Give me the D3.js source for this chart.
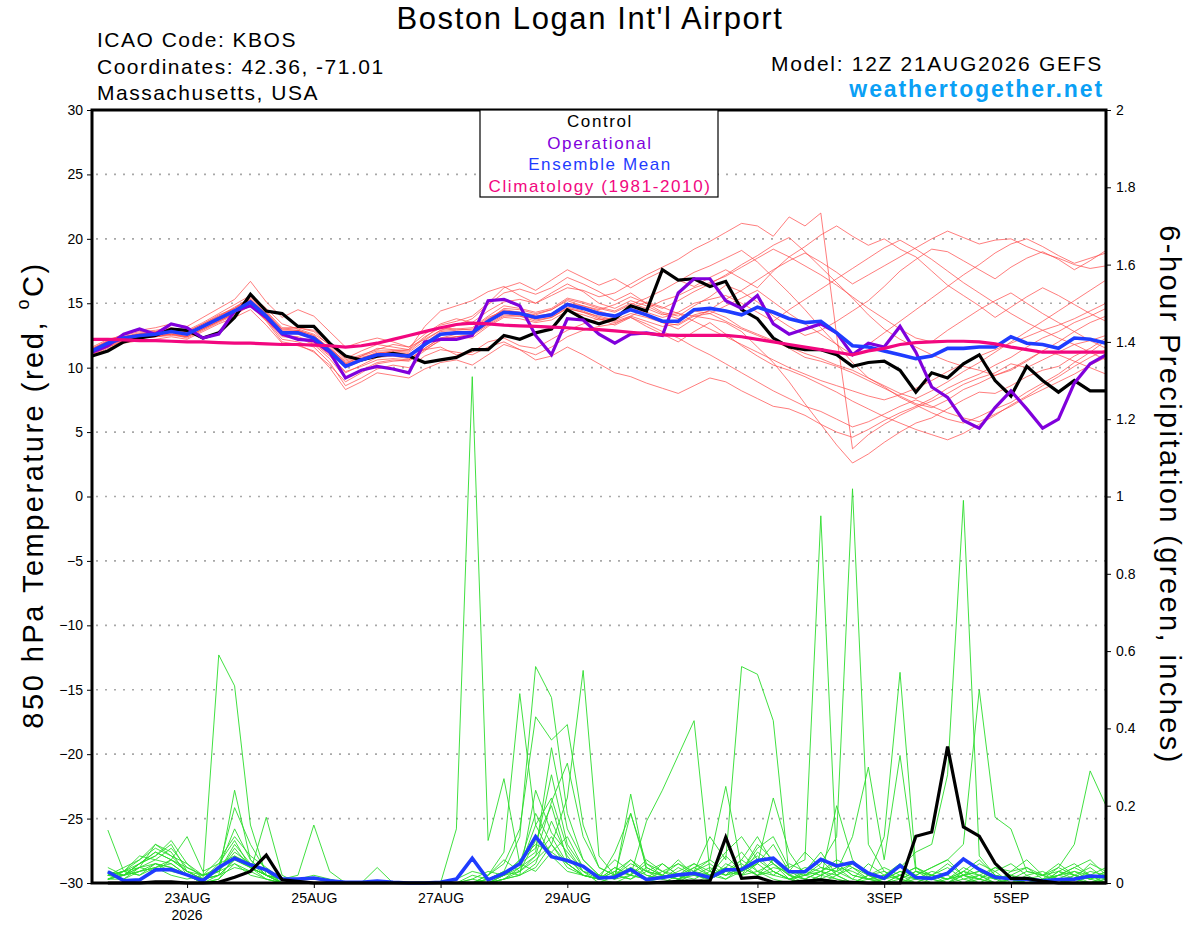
<!DOCTYPE html>
<html>
<head>
<meta charset="utf-8">
<script src="https://cdnjs.cloudflare.com/ajax/libs/d3/7.8.5/d3.min.js"></script>
<style>
  body { margin: 0; background: #fff; }
  svg text { font-family: "Liberation Sans", Arial, Helvetica, sans-serif; }
</style>
</head>
<body>
<div class="svg-container"></div>
<script>

let w = 1200;
let h = 927;
let plotLeft = 92;
let plotRight = 1106;
let plotTop = 110;
let plotBottom = 883;

// ---------- data (6-hourly, 12Z 21AUG2026 + 0..384h) ----------
let tickDates = ["2026-08-23", "2026-08-25", "2026-08-27", "2026-08-29", "2026-09-01", "2026-09-03", "2026-09-05"];
let tickLabels = ["23AUG", "25AUG", "27AUG", "29AUG", "1SEP", "3SEP", "5SEP"];
let tempTicks = [-30, -25, -20, -15, -10, -5, 0, 5, 10, 15, 20, 25, 30];
let precipTicks = [0, 0.2, 0.4, 0.6, 0.8, 1, 1.2, 1.4, 1.6, 1.8, 2];

let legendNames = ["Control", "Operational", "Ensemble Mean", "Climatology (1981-2010)"];
let legendColors = ["#000000", "#8000dc", "#1f3cff", "#f2077f"];

// 850 hPa temperature, degC
let tempControl = [10.9,11.3,12.0,12.3,12.5,13.0,12.9,12.3,12.7,13.9,15.7,14.4,14.2,13.2,13.2,11.9,10.9,10.6,10.9,11.1,10.9,10.4,10.6,10.8,11.4,11.4,12.5,12.2,12.7,13.0,14.5,13.8,13.4,13.8,14.8,14.4,17.6,16.8,16.9,16.3,16.7,14.5,13.8,12.3,11.6,11.4,11.4,11.0,10.1,10.4,10.5,9.8,8.1,9.6,9.2,10.3,11.0,9.0,7.8,10.1,9.0,8.1,9.0,8.2,8.2];
let tempOper = [11.2,11.7,12.6,13.0,12.6,13.4,13.1,12.3,12.6,14.4,14.8,13.9,12.6,12.2,12.1,11.2,9.2,9.8,10.1,9.9,9.6,12.0,12.2,12.2,12.5,15.2,15.3,14.8,12.5,11.0,13.8,13.7,12.6,11.9,12.6,12.7,12.5,15.8,16.9,16.9,15.2,14.6,15.6,13.4,12.6,13.0,13.4,12.7,11.0,11.9,11.6,13.2,11.2,8.5,7.7,5.9,5.3,6.9,8.2,6.8,5.3,6.0,8.8,10.3,11.0];
let tempMean = [11.3,11.9,12.3,12.5,12.6,12.8,12.6,13.2,13.8,14.4,15.1,14.0,12.7,12.7,12.3,11.3,10.1,10.6,11.0,11.0,10.9,11.8,12.6,12.7,12.7,13.6,14.3,14.2,13.9,14.1,14.9,14.6,14.2,14.0,14.5,14.1,13.6,13.6,14.5,14.6,14.4,14.1,14.7,14.3,13.8,13.5,13.6,12.7,11.7,11.6,11.3,11.0,10.7,10.9,11.5,11.5,11.6,11.6,12.4,11.9,11.8,11.5,12.3,12.2,11.9];
let tempClim = [12.2,12.2,12.15,12.1,12.1,12.05,12.0,12.0,11.95,11.9,11.9,11.85,11.8,11.8,11.75,11.7,11.6,11.7,11.9,12.2,12.5,12.8,13.1,13.35,13.45,13.4,13.3,13.25,13.2,13.15,13.1,13.0,12.95,12.85,12.75,12.65,12.55,12.5,12.5,12.5,12.5,12.4,12.2,12.0,11.8,11.6,11.4,11.2,11.0,11.3,11.5,11.8,11.95,12.0,12.05,12.05,12.0,11.85,11.6,11.4,11.2,11.2,11.2,11.2,11.2];

let tempMembers = [
  [11.5,12.0,12.4,12.7,12.8,13.0,12.9,13.5,14.2,14.9,15.6,14.6,13.4,13.0,12.6,11.8,10.6,11.0,11.4,11.8,11.6,12.6,13.4,13.8,13.5,14.4,15.1,15.3,15.0,15.6,16.2,16.0,15.5,15.8,16.5,17.2,17.8,18.4,19.2,19.8,20.5,21.2,21.0,20.2,21.7,21.0,22.0,12.5,3.7,4.8,5.6,6.3,6.9,7.4,8.0,8.7,9.2,9.6,10.3,10.0,10.6,11.2,11.8,12.1,12.5],
  [11.0,11.6,12.1,12.3,12.4,12.6,12.3,12.9,13.5,14.1,14.8,13.6,12.0,11.8,11.2,10.2,8.9,9.6,10.3,10.5,10.6,11.5,12.3,12.6,12.8,13.7,14.6,14.5,14.2,14.5,15.2,14.8,14.4,14.0,14.6,14.3,13.9,14.2,14.0,13.8,13.5,12.8,11.6,10.4,8.9,7.2,5.6,4.0,2.6,3.3,4.2,5.0,5.7,6.1,6.8,7.5,8.1,8.0,8.6,9.3,9.8,10.1,10.9,11.5,12.3],
  [11.4,12.1,12.6,12.9,13.1,13.4,13.2,13.9,14.6,15.3,16.7,15.1,13.9,14.5,14.0,12.8,11.6,12.0,12.3,12.0,11.6,12.2,12.9,13.3,13.8,14.9,15.8,16.1,15.7,16.2,17.0,16.5,15.9,15.2,15.8,15.0,14.3,14.0,14.8,15.5,16.4,15.9,15.1,14.0,13.2,12.5,12.9,13.6,14.4,15.2,16.3,17.5,18.4,19.2,19.0,18.3,17.6,16.9,17.8,18.5,19.0,18.4,17.6,18.3,19.1],
  [11.1,11.7,12.2,12.4,12.5,12.7,12.4,13.0,13.6,14.2,14.9,13.7,12.2,12.0,11.6,10.4,8.6,9.2,9.9,10.2,10.0,10.9,11.4,11.2,11.0,11.6,12.0,11.4,10.6,10.9,11.6,11.0,10.3,9.6,9.3,8.8,8.4,8.0,8.6,9.2,8.9,8.2,7.6,7.0,6.8,6.3,5.6,5.0,4.6,5.2,5.9,6.5,7.0,7.6,8.4,9.0,9.5,10.2,10.8,11.6,12.3,12.8,13.5,14.0,14.6],
  [11.6,12.2,12.5,12.8,12.9,13.1,12.8,13.4,14.0,14.7,15.4,14.3,13.0,13.1,12.8,11.7,10.3,10.9,11.5,11.4,11.3,12.3,13.3,13.6,14.0,15.0,16.2,16.6,16.0,16.8,17.6,17.0,16.4,16.9,16.2,16.9,17.5,16.8,16.3,17.0,17.6,16.9,16.2,17.5,18.6,19.4,20.3,21.0,20.2,19.5,20.0,19.2,18.6,17.5,16.4,15.6,14.8,13.9,14.7,15.5,16.2,15.6,14.9,14.2,13.6],
  [11.2,11.8,12.2,12.4,12.5,12.6,12.5,13.1,13.7,14.3,15.0,13.8,12.5,12.4,12.0,11.0,9.6,10.2,10.8,10.9,10.7,11.4,12.1,12.4,12.5,13.3,14.0,14.0,13.8,14.0,14.7,14.4,13.9,13.6,14.0,13.6,13.2,13.4,14.1,14.4,13.9,13.1,12.6,12.1,11.5,10.8,10.5,10.1,9.6,9.0,8.4,7.8,7.2,6.9,7.5,8.3,8.8,9.4,9.9,10.6,11.3,11.0,10.5,10.0,9.5],
  [11.3,11.9,12.4,12.6,12.7,12.9,12.7,13.3,13.9,14.6,15.2,14.2,12.9,12.9,12.5,11.5,10.4,10.8,11.1,11.3,11.4,12.4,13.1,13.0,12.9,13.8,14.5,14.3,14.1,14.5,15.3,15.0,14.6,14.3,14.9,15.4,16.0,16.7,17.4,17.9,18.5,19.1,18.2,17.0,15.8,14.5,13.1,11.8,10.4,9.2,8.5,7.7,7.1,6.5,6.0,5.7,6.2,6.8,7.3,8.1,8.8,9.5,10.4,11.2,12.1],
  [10.9,11.5,11.9,12.1,12.2,12.4,12.2,12.8,13.4,13.9,14.5,13.3,11.9,11.7,11.3,10.0,8.3,8.9,9.6,9.4,9.2,9.9,10.4,10.6,10.2,11.0,11.8,11.4,11.0,11.6,12.4,12.9,13.2,13.4,14.0,14.6,15.2,15.6,16.2,16.6,17.1,17.8,18.5,19.2,18.6,17.9,17.2,16.4,15.5,14.6,13.8,13.0,12.3,12.0,12.9,13.7,14.5,15.2,15.8,15.0,14.2,13.5,12.8,12.1,11.5],
  [11.4,12.0,12.3,12.6,12.7,12.9,12.6,13.2,13.9,14.4,15.3,14.1,12.6,12.9,12.3,11.4,10.2,10.7,11.2,11.1,11.0,11.9,12.8,12.9,13.0,13.9,14.4,14.2,13.7,13.9,14.6,14.3,13.8,13.3,13.9,13.2,12.6,12.0,12.8,13.5,12.6,11.7,10.9,10.2,9.8,9.3,8.7,8.1,7.4,6.8,6.2,5.7,5.2,4.8,4.4,4.9,5.6,6.3,7.1,7.8,8.6,9.3,10.1,10.8,11.4],
  [11.2,11.8,12.3,12.5,12.6,12.8,12.7,13.2,13.7,14.3,15.0,13.9,12.8,12.6,12.2,11.2,10.0,10.5,10.9,11.0,10.8,11.7,12.5,12.8,12.6,13.5,14.2,14.1,13.9,14.2,15.0,14.8,14.5,14.9,15.5,15.0,14.6,15.2,15.9,16.5,17.2,18.0,18.7,19.5,20.1,19.0,17.8,16.6,15.4,14.1,13.0,12.2,11.6,11.0,10.5,10.1,9.8,9.4,9.8,10.5,11.3,12.0,12.8,13.5,14.0],
  [11.5,12.1,12.3,12.6,12.8,13.0,12.8,13.4,14.1,14.6,15.5,14.4,13.1,13.1,12.9,11.9,10.7,11.3,11.8,11.6,11.4,13.2,14.4,14.8,15.2,15.9,16.3,15.6,15.0,15.8,16.5,15.9,15.0,14.6,15.2,14.8,14.2,13.8,14.4,14.2,13.6,13.0,12.5,12.0,11.6,11.1,10.7,10.2,9.8,9.2,8.6,8.0,7.6,8.2,8.9,9.7,10.4,11.2,12.0,12.8,13.6,14.4,15.2,16.0,16.8],
  [11.0,11.6,12.0,12.3,12.4,12.5,12.4,13.0,13.6,14.2,14.8,13.7,12.4,12.3,11.8,10.7,9.2,9.8,10.4,10.6,10.5,11.3,12.2,12.4,12.6,13.4,14.1,14.0,13.6,13.9,14.6,14.3,14.0,13.7,14.2,13.9,13.5,13.3,14.0,14.2,14.8,15.4,16.0,15.1,14.2,13.4,12.6,11.8,11.0,11.8,12.7,13.6,14.5,15.4,16.3,17.2,18.0,18.9,19.6,20.0,19.4,18.7,18.1,18.5,18.9],
  [11.3,11.9,12.4,12.6,12.7,12.9,12.6,13.2,13.8,14.5,15.1,14.0,12.8,12.7,12.4,11.3,10.1,10.6,11.1,11.2,11.1,11.4,11.6,11.0,11.2,12.0,12.3,11.7,11.5,12.2,12.9,13.4,13.8,13.5,13.9,13.4,12.8,12.3,11.6,11.0,10.3,9.6,8.9,8.2,7.6,7.0,6.6,6.0,5.4,5.8,6.4,7.0,7.5,7.0,6.5,6.1,5.8,6.4,7.0,7.7,8.3,8.9,9.5,10.2,10.8],
  [11.4,12.0,12.3,12.5,12.7,12.9,12.7,13.3,14.0,14.6,15.3,14.2,13.0,12.9,12.5,11.5,10.5,10.9,11.3,11.3,11.2,12.1,12.9,13.0,13.1,14.0,14.8,14.6,14.3,14.6,15.4,15.1,14.7,14.4,15.0,14.6,14.1,14.3,15.0,15.3,15.6,15.0,14.3,13.6,14.5,15.3,16.1,16.9,17.7,18.5,19.3,19.9,19.2,18.4,17.5,16.6,15.8,15.0,14.2,13.5,12.9,12.3,11.8,11.2,10.6],
  [11.1,11.7,12.1,12.3,12.4,12.6,12.4,13.0,13.6,14.2,14.9,13.8,12.5,12.3,11.9,10.9,9.7,10.1,10.6,10.7,10.6,11.5,12.3,12.4,12.3,13.2,13.9,13.8,13.5,13.7,14.4,14.1,13.7,13.9,14.6,15.1,14.7,14.2,13.6,13.0,12.4,11.8,11.2,10.6,10.0,9.5,9.0,8.6,8.2,7.8,7.5,7.9,8.4,9.0,9.7,10.3,10.9,11.4,11.9,12.4,12.9,13.3,13.8,14.4,15.0],
  [11.3,11.9,12.2,12.5,12.6,12.8,12.6,13.2,13.8,14.4,15.1,14.0,12.7,12.8,12.4,11.4,10.3,10.7,11.0,11.1,11.0,11.9,12.6,12.8,12.8,13.7,14.4,14.3,14.0,14.2,15.0,14.7,14.3,14.0,14.5,14.0,13.5,13.0,13.8,14.5,15.3,16.0,16.8,17.6,18.3,18.9,18.2,17.4,16.5,17.2,17.9,18.6,19.3,20.0,20.6,20.1,19.6,19.9,20.0,19.4,18.9,18.5,18.0,17.7,17.9]
];

// 6-hour precipitation, inches (periods ending 18Z 21AUG .. 12Z 7SEP)
let precipControl = [0,0,0,0.003,0.003,0,0,0.002,0.015,0.03,0.072,0.008,0.004,0,0,0,0,0,0,0,0,0,0,0,0,0,0,0,0,0,0,0,0,0,0,0.002,0.004,0.005,0.005,0.118,0.012,0.015,0.002,0.002,0.005,0.008,0.003,0.002,0,0,0,0.121,0.132,0.353,0.145,0.121,0.051,0.012,0.012,0.005,0,0,0,0];
let precipMean = [0.029,0.006,0.008,0.034,0.035,0.021,0.006,0.04,0.064,0.047,0.034,0.01,0.01,0.013,0.006,0.002,0.002,0.005,0.002,0,0,0.002,0.01,0.064,0.008,0.025,0.05,0.12,0.068,0.058,0.043,0.013,0.015,0.035,0.009,0.014,0.021,0.025,0.014,0.034,0.035,0.058,0.064,0.029,0.029,0.061,0.044,0.053,0.025,0.012,0.045,0.014,0.012,0.025,0.062,0.035,0.015,0.011,0.01,0.006,0.009,0.01,0.018,0.016];

let precipMembers = [
  [0.02,0.03,0.06,0.09,0.07,0.03,0.01,0.59,0.51,0.15,0.02,0,0,0,0,0,0,0,0,0,0,0,0,0.01,0,0.02,0.06,0.1,0.08,0.05,0.02,0.01,0.03,0.06,0.02,0.01,0,0.03,0.05,0.02,0.04,0.07,0.03,0.01,0,0.02,0.04,0.01,0,0,0,0.02,0.04,0.06,0.02,0,0,0.01,0,0,0,0.02,0.01,0],
  [0.01,0.02,0.04,0.1,0.08,0.02,0,0.02,0.24,0.06,0.02,0.01,0,0,0,0,0,0,0,0,0,0,0.14,1.31,0.11,0.27,0.05,0.03,0.08,0.12,0.04,0.01,0,0.02,0.05,0.03,0.01,0,0.02,0.04,0.08,0.03,0.01,0,0.03,0.06,0.02,0,0,0.01,0.03,0.01,0,0,0.02,0.05,0.03,0,0,0,0.03,0.05,0.02,0],
  [0.03,0.02,0.05,0.07,0.11,0.05,0.01,0.04,0.195,0.1,0.03,0,0,0,0,0,0,0,0,0,0,0,0.01,0.03,0.02,0.08,0.49,0.15,0.22,0.09,0.03,0,0.02,0.04,0.01,0,0.02,0.05,0.03,0.08,0.12,0.06,0.03,0.01,0,0.02,0.01,0,0.02,0.04,0.02,0,0,0.01,0.03,0.01,0,0,0.02,0.03,0.01,0,0.02,0.04],
  [0.01,0.03,0.02,0.05,0.04,0.02,0,0.01,0.05,0.03,0.17,0.02,0,0,0,0,0,0,0,0,0,0,0,0.02,0.01,0.03,0.12,0.56,0.48,0.18,0.06,0.02,0.01,0.23,0.03,0.01,0.04,0.02,0.01,0.03,0.06,0.12,0.05,0.01,0.03,0.08,0.02,0,0.01,0.02,0.05,0.02,0,0,0.01,0.02,0.01,0,0,0.01,0.04,0.02,0,0.01],
  [0.02,0.03,0.07,0.06,0.09,0.04,0.02,0.03,0.08,0.05,0.02,0.01,0.02,0.15,0.03,0,0,0,0,0,0,0,0,0,0.02,0.05,0.14,0.43,0.37,0.41,0.15,0.04,0.02,0.18,0.05,0.02,0.01,0.03,0.06,0.03,0.02,0.05,0.22,0.08,0.02,0.01,0.03,0.05,0.02,0,0.01,0.03,0.02,0,0,0.01,0.03,0.05,0.02,0,0,0.01,0.03,0.02],
  [0.02,0.01,0.04,0.03,0.06,0.12,0.03,0.05,0.11,0.04,0.01,0,0,0,0,0,0,0,0,0,0,0,0,0.01,0.03,0.02,0.05,0.18,0.1,0.22,0.55,0.07,0.02,0.01,0.03,0.05,0.02,0,0.01,0.05,0.03,0.1,0.06,0.02,0,0.01,0.2,0.06,0.02,0,0.02,0.04,0.01,0,0.03,0.02,0,0.01,0.03,0.02,0,0.01,0.05,0.03],
  [0.01,0.02,0.03,0.04,0.02,0.01,0.02,0.06,0.12,0.07,0.04,0.01,0,0,0,0,0,0,0,0,0,0,0,0,0,0.01,0.03,0.07,0.12,0.05,0.02,0.01,0.04,0.02,0.16,0.24,0.33,0.42,0.03,0.01,0.04,0.02,0.06,0.03,0.01,0,0.02,0.04,0.01,0,0,0.01,0.02,0.04,0.01,0,0.02,0.01,0,0.01,0.02,0.04,0.02,0.01],
  [0.04,0.02,0.05,0.08,0.06,0.03,0.01,0.02,0.06,0.04,0.02,0,0.01,0.02,0.01,0,0,0.04,0,0,0,0,0,0,0.01,0.02,0.06,0.09,0.28,0.1,0.04,0.02,0.06,0.03,0.01,0.02,0.05,0.03,0.12,0.06,0.56,0.54,0.42,0.02,0.04,0.03,0.01,0,0.02,0.03,0.01,0,0.02,0.05,0.02,0.01,0,0.03,0.04,0.02,0.01,0.03,0.02,0],
  [0.02,0.04,0.06,0.1,0.07,0.05,0.02,0.03,0.09,0.04,0.02,0,0,0,0,0,0,0,0,0,0,0,0,0,0,0.01,0.04,0.15,0.07,0.03,0.02,0.01,0.08,0.18,0.04,0.02,0.01,0.02,0.04,0.02,0.03,0.09,0.12,0.04,0.06,0.95,0.05,0.02,0.01,0,0.02,0.01,0.03,0.02,0,0.02,0.04,0.02,0,0,0.02,0.01,0,0.02],
  [0.01,0.01,0.03,0.05,0.04,0.02,0.01,0.02,0.04,0.03,0.01,0,0,0,0,0,0,0,0,0,0,0,0,0,0.02,0.06,0.03,0.11,0.2,0.06,0.03,0.02,0.01,0.02,0.06,0.03,0.02,0.04,0.02,0.07,0.03,0.05,0.1,0.03,0.02,0.05,0.12,1.02,0.1,0.03,0.01,0,0.02,0.01,0.04,0.02,0,0,0.01,0.02,0.03,0.01,0,0.01],
  [0.02,0.03,0.04,0.06,0.05,0.02,0,0.01,0.07,0.05,0.03,0,0,0,0,0,0,0,0,0,0,0,0,0,0,0.02,0.05,0.08,0.35,0.14,0.06,0.02,0.01,0.04,0.02,0.01,0.03,0.05,0.02,0.04,0.02,0.08,0.05,0.02,0.01,0.03,0.06,0.04,0.02,0.12,0.545,0.04,0.02,0.01,0.03,0.06,0.02,0.01,0,0,0.03,0.02,0.04,0.01],
  [0.03,0.02,0.03,0.04,0.06,0.03,0.01,0.05,0.07,0.04,0.02,0,0,0,0,0,0,0,0,0,0,0,0,0,0.01,0.03,0.02,0.24,0.13,0.08,0.03,0.01,0.02,0.01,0.04,0.02,0.06,0.02,0.01,0.03,0.05,0.02,0.04,0.03,0.08,0.04,0.03,0.12,0.3,0.06,0.33,0.03,0.01,0,0.02,0.03,0.01,0.02,0.04,0.01,0,0.02,0.01,0.03],
  [0.02,0.02,0.05,0.07,0.1,0.03,0.02,0.04,0.14,0.06,0.02,0,0,0,0,0,0,0,0,0,0,0,0,0,0.01,0.02,0.03,0.06,0.1,0.04,0.02,0.01,0.03,0.02,0.01,0.05,0.02,0.01,0.03,0.02,0.06,0.03,0.02,0.05,0.03,0.02,0.04,0.03,0.01,0.02,0.04,0.08,0.1,0.28,0.99,0.07,0.02,0.01,0,0.01,0.02,0.04,0.06,0.02],
  [0.01,0.02,0.04,0.05,0.03,0.02,0.01,0.03,0.05,0.02,0.01,0,0,0,0,0,0,0,0,0,0,0,0,0,0,0.01,0.02,0.05,0.16,0.07,0.02,0.01,0.04,0.02,0.01,0.03,0.05,0.02,0.01,0.04,0.02,0.03,0.05,0.02,0.01,0.03,0.02,0.05,0.02,0.01,0.03,0.02,0.04,0.06,0.1,0.5,0.17,0.14,0.03,0.02,0.05,0.02,0.01,0.03],
  [0.02,0.03,0.02,0.04,0.05,0.02,0.01,0.02,0.06,0.04,0.02,0.01,0,0,0,0,0,0,0,0,0,0,0,0,0,0.02,0.04,0.07,0.21,0.31,0.12,0.04,0.02,0.06,0.03,0.02,0.01,0.03,0.02,0.01,0.03,0.05,0.02,0.01,0.02,0.04,0.03,0.01,0.05,0.02,0.01,0.03,0.02,0.01,0.02,0.01,0.04,0.03,0.06,0.02,0.04,0.1,0.29,0.2],
  [0.137,0.03,0.05,0.08,0.06,0.04,0.02,0.03,0.1,0.05,0.03,0.01,0,0,0,0,0,0,0,0,0,0,0,0,0,0.01,0.02,0.04,0.1,0.05,0.02,0.01,0.02,0.05,0.03,0.02,0.01,0.04,0.06,0.25,0.04,0.02,0.03,0.01,0.02,0.03,0.05,0.02,0.01,0.01,0.02,0.04,0.02,0.01,0.02,0.03,0.01,0.02,0.01,0,0.02,0.03,0.01,0.02]
];

// ---------- svg ----------
let svg = d3.select(".svg-container")
  .append("svg")
  .attr("width", w)
  .attr("height", h)
  .style("background", "#fff");

let start = Date.UTC(2026, 7, 21, 12);
function timeAt(i) {
  return new Date(start + i * 6 * 3600 * 1000);
}

let x = d3.scaleUtc()
  .domain([timeAt(0), timeAt(64)])
  .range([plotLeft, plotRight]);

let yTemp = d3.scaleLinear()
  .domain([-30, 30])
  .range([plotBottom, plotTop]);

let yPrecip = d3.scaleLinear()
  .domain([0, 2])
  .range([plotBottom, plotTop]);

// gridlines, dotted grey
svg.append("g")
  .selectAll("line")
  .data(tempTicks.filter(function(d){ return d > -30 && d < 30; }))
  .enter()
  .append("line")
    .attr("x1", plotLeft + 4)
    .attr("x2", plotRight)
    .attr("y1", function(d){ return yTemp(d); })
    .attr("y2", function(d){ return yTemp(d); })
    .attr("stroke", "#a8a8a8")
    .attr("stroke-width", 1.6)
    .attr("stroke-dasharray", "2,7");

let tempLine = d3.line()
  .x(function(d, i){ return x(timeAt(i)); })
  .y(function(d){ return yTemp(d); });

// precip periods end 6h after the temperature times
let precipLine = d3.line()
  .x(function(d, i){ return x(timeAt(i + 1)); })
  .y(function(d){ return yPrecip(d); });

// ensemble members
svg.append("g")
  .selectAll("path")
  .data(precipMembers)
  .enter()
  .append("path")
    .attr("d", precipLine)
    .attr("fill", "none")
    .attr("stroke", "#2bdc2b")
    .attr("stroke-width", 0.9);

svg.append("g")
  .selectAll("path")
  .data(tempMembers)
  .enter()
  .append("path")
    .attr("d", tempLine)
    .attr("fill", "none")
    .attr("stroke", "#ff4a4a")
    .attr("stroke-width", 0.8)
    .attr("stroke-opacity", 0.9);

// main lines
function drawLine(values, lineFn, color, width) {
  svg.append("path")
    .datum(values)
    .attr("d", lineFn)
    .attr("fill", "none")
    .attr("stroke", color)
    .attr("stroke-width", width)
    .attr("stroke-linejoin", "miter");
}

drawLine(tempControl, tempLine, legendColors[0], 3.2);
drawLine(tempOper, tempLine, legendColors[1], 3.2);
drawLine(tempMean, tempLine, legendColors[2], 3.6);
drawLine(tempClim, tempLine, legendColors[3], 3.2);

drawLine(precipMean, precipLine, legendColors[2], 3.6);
drawLine(precipControl, precipLine, legendColors[0], 3.2);

// frame
svg.append("rect")
  .attr("x", plotLeft)
  .attr("y", plotTop)
  .attr("width", plotRight - plotLeft)
  .attr("height", plotBottom - plotTop)
  .attr("fill", "none")
  .attr("stroke", "#000")
  .attr("stroke-width", 3);

// axes
let leftAxis = svg.append("g")
  .attr("transform", "translate(" + plotLeft + ",0)")
  .call(d3.axisLeft(yTemp).tickValues(tempTicks).tickSize(5).tickPadding(4));

let rightAxis = svg.append("g")
  .attr("transform", "translate(" + plotRight + ",0)")
  .call(d3.axisRight(yPrecip).tickValues(precipTicks).tickSize(5).tickPadding(5)
    .tickFormat(function(d){ return String(+d.toFixed(1)); }));

let bottomAxis = svg.append("g")
  .attr("transform", "translate(0," + plotBottom + ")")
  .call(d3.axisBottom(x)
    .tickValues(tickDates.map(function(d){ return new Date(d + "T00:00:00Z"); }))
    .tickSize(5)
    .tickPadding(5)
    .tickFormat(function(d, i){ return tickLabels[i]; }));

[leftAxis, rightAxis, bottomAxis].forEach(function(g){
  g.select(".domain").remove();
  g.selectAll("text")
    .attr("font-size", "14px")
    .attr("fill", "#000")
    .style("font-family", '"Liberation Sans", Arial, sans-serif');
  g.selectAll("line").attr("stroke", "#000");
});

svg.append("text")
  .attr("x", x(new Date(tickDates[0] + "T00:00:00Z")))
  .attr("y", 920)
  .attr("text-anchor", "middle")
  .attr("font-size", "14px")
  .text("2026");

// legend box
let legend = svg.append("g");
legend.append("rect")
  .attr("x", 480)
  .attr("y", plotTop)
  .attr("width", 238)
  .attr("height", 87)
  .attr("fill", "#fff")
  .attr("stroke", "#000")
  .attr("stroke-width", 1.2);

legend.selectAll("text")
  .data(legendNames)
  .enter()
  .append("text")
    .attr("x", 600)
    .attr("y", function(d, i){ return 127 + i * 21.7; })
    .attr("text-anchor", "middle")
    .attr("font-size", "17px")
    .attr("letter-spacing", "1.6px")
    .attr("fill", function(d, i){ return legendColors[i]; })
    .text(function(d){ return d; });

// header text
svg.append("text")
  .attr("x", 590)
  .attr("y", 29)
  .attr("text-anchor", "middle")
  .attr("font-size", "31px")
  .attr("letter-spacing", "1.6px")
  .text("Boston Logan Int'l Airport");

let headerLines = ["ICAO Code: KBOS", "Coordinates: 42.36, -71.01", "Massachusetts, USA"];
svg.append("g")
  .selectAll("text")
  .data(headerLines)
  .enter()
  .append("text")
    .attr("x", 97)
    .attr("y", function(d, i){ return 47 + i * 26.5; })
    .attr("font-size", "21px")
    .attr("letter-spacing", "1.5px")
    .text(function(d){ return d; });

svg.append("text")
  .attr("x", 1103)
  .attr("y", 71)
  .attr("text-anchor", "end")
  .attr("font-size", "21px")
  .attr("letter-spacing", "1.7px")
  .text("Model: 12Z 21AUG2026 GEFS");

svg.append("text")
  .attr("x", 1104)
  .attr("y", 97)
  .attr("text-anchor", "end")
  .attr("font-size", "23px")
  .attr("font-weight", "bold")
  .attr("letter-spacing", "1.9px")
  .attr("fill", "#0aa0f5")
  .text("weathertogether.net");

// axis titles
let leftTitle = svg.append("text")
  .attr("transform", "translate(33,495) rotate(-90)")
  .attr("text-anchor", "middle")
  .attr("dominant-baseline", "central")
  .attr("font-size", "29px")
  .attr("letter-spacing", "2.5px");
leftTitle.append("tspan").text("850 hPa Temperature (red, ");
leftTitle.append("tspan").attr("font-size", "18px").attr("dy", "-10").text("o");
leftTitle.append("tspan").attr("dy", "10").text("C)");

svg.append("text")
  .attr("transform", "translate(1170,495) rotate(90)")
  .attr("text-anchor", "middle")
  .attr("dominant-baseline", "central")
  .attr("font-size", "29px")
  .attr("letter-spacing", "2.4px")
  .text("6-hour Precipitation (green, inches)");

</script>
</body>
</html>
